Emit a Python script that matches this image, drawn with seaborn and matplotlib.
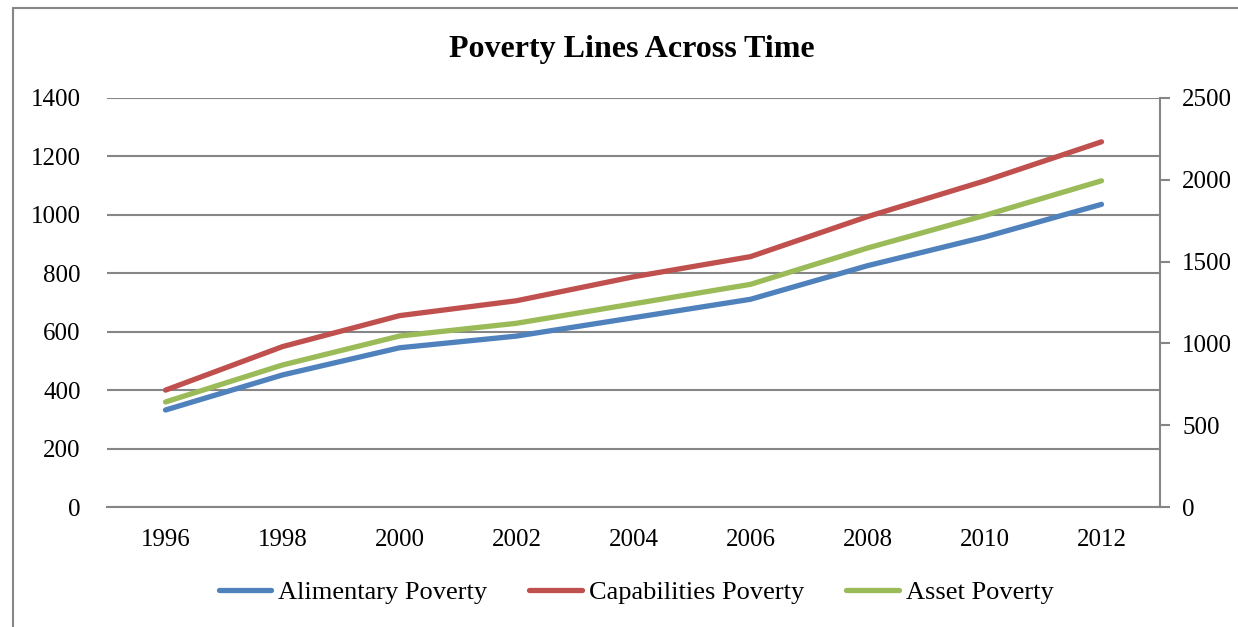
import pandas as pd
import seaborn as sns
import matplotlib.pyplot as plt
from matplotlib.lines import Line2D

years = ["1996", "1998", "2000", "2002", "2004", "2006", "2008", "2010", "2012"]
alimentary = [332, 452, 545, 585, 648, 711, 826, 924, 1036]
capabilities = [400, 549, 655, 706, 788, 857, 994, 1116, 1250]
asset = [642, 868, 1045, 1123, 1242, 1361, 1583, 1782, 1994]  # right axis

blue, red, green = "#4F81BD", "#C0504D", "#9BBB59"
grid_col = "#868686"

sns.set_style("white")
plt.rcParams["font.family"] = ["Liberation Serif", "DejaVu Serif"]
plt.rcParams["text.color"] = "black"
plt.rcParams["xtick.color"] = "black"
plt.rcParams["ytick.color"] = "black"

left = pd.DataFrame({
    "year": years * 2,
    "value": alimentary + capabilities,
    "series": ["Alimentary Poverty"] * 9 + ["Capabilities Poverty"] * 9,
})
right = pd.DataFrame({"year": years, "value": asset, "series": "Asset Poverty"})

fig = plt.figure(figsize=(12.38, 6.27), dpi=100)
ax = fig.add_axes([107 / 1238, 1 - 507 / 627, (1160 - 107) / 1238, (507 - 98) / 627])

sns.lineplot(data=left, x="year", y="value", hue="series",
             palette=[blue, red], linewidth=3.8, ax=ax, legend=False)
ax2 = ax.twinx()
sns.lineplot(data=right, x="year", y="value", color=green,
             linewidth=3.8, ax=ax2, legend=False)

for l in ax.lines + ax2.lines:
    l.set_solid_capstyle("round")

ax.set_xlim(-0.5, 8.5)
ax.set_ylim(0, 1400)
ax.set_yticks(range(0, 1401, 200))
ax2.set_ylim(0, 2500)
ax2.set_yticks(range(0, 2501, 500))
ax.set_xlabel("")
ax.set_ylabel("")
ax2.set_ylabel("")

ax.yaxis.grid(True, color=grid_col, linewidth=1.5)
ax.set_axisbelow(True)
for s in ["top", "left", "right"]:
    ax.spines[s].set_visible(False)
    ax2.spines[s].set_visible(False)
ax2.spines["bottom"].set_visible(False)
ax.spines["bottom"].set_color(grid_col)
ax.spines["bottom"].set_linewidth(1.5)
ax2.spines["right"].set_visible(True)
ax2.spines["right"].set_color(grid_col)
ax2.spines["right"].set_linewidth(1.5)

ax.tick_params(axis="x", length=0, pad=16, labelsize=18, labelcolor="black")
ax.tick_params(axis="y", length=0, pad=19, labelsize=18, labelcolor="black")
ax2.tick_params(axis="y", direction="out", length=7, width=1.5,
                color=grid_col, pad=9, labelsize=18, labelcolor="black")

fig.text(632 / 1238, 1 - 50 / 627, "Poverty Lines Across Time",
         ha="center", va="center", fontsize=23, fontweight="bold", color="black")

handles = [Line2D([], [], color=c, linewidth=3.8, solid_capstyle="round")
           for c in (blue, red, green)]
fig.legend(handles, ["Alimentary Poverty", "Capabilities Poverty", "Asset Poverty"],
           loc="center", bbox_to_anchor=(636 / 1238, 1 - 592 / 627), ncol=3,
           frameon=False, fontsize=19, handlelength=2.0, handletextpad=0.25,
           columnspacing=1.6)

# chart-area border (cropped on right/bottom in the original)
fig.add_artist(Line2D([13 / 1238, 1], [1 - 8 / 627, 1 - 8 / 627],
                      transform=fig.transFigure, color=grid_col, linewidth=1.5))
fig.add_artist(Line2D([13 / 1238, 13 / 1238], [0, 1 - 8 / 627],
                      transform=fig.transFigure, color=grid_col, linewidth=1.5))

fig.savefig("out.png", dpi=100)
